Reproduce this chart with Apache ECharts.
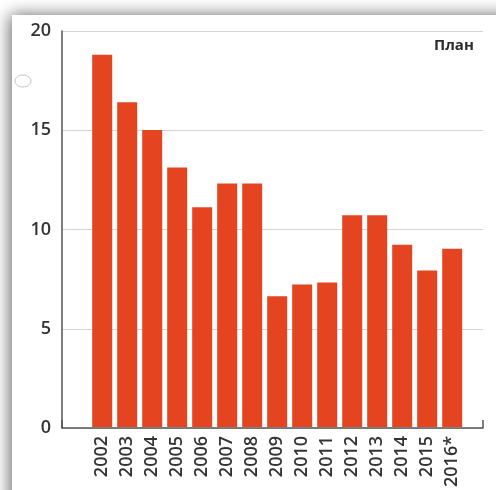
<!DOCTYPE html>
<html>
<head>
<meta charset="utf-8">
<style>
  html, body { margin: 0; padding: 0; background: #ffffff; }
  #chart { width: 496px; height: 490px; }
</style>
<script src="https://cdn.jsdelivr.net/npm/echarts@6/dist/echarts.min.js"></script>
</head>
<body>
<div id="chart"></div>
<script>
// Years shown along the bottom axis
const years = ['2002', '2003', '2004', '2005', '2006', '2007', '2008', '2009',
               '2010', '2011', '2012', '2013', '2014', '2015', '2016*'];
// Yearly values
const values = [18.8, 16.4, 15.0, 13.1, 11.1, 12.3, 12.3, 6.6,
                7.2, 7.3, 10.7, 10.7, 9.2, 7.9, 9.0];
// Value axis range and step
const yMin = 0;
const yMax = 20;
const yStep = 5;
const cornerNote = 'План';

const chart = echarts.init(document.getElementById('chart'));

const labelFont = '"Open Sans", "DejaVu Sans", sans-serif';

chart.setOption({
  animation: false,
  backgroundColor: 'transparent',
  graphic: [
    {
      // white card with a soft shadow on its left and top edges
      type: 'rect',
      z: -20,
      silent: true,
      shape: { x: 12, y: 15, width: 520, height: 520 },
      style: {
        fill: '#ffffff',
        shadowBlur: 16,
        shadowColor: 'rgba(0,0,0,0.6)',
        shadowOffsetX: -2,
        shadowOffsetY: 0
      }
    },
    {
      type: 'ellipse',
      silent: true,
      shape: { cx: 23, cy: 81, rx: 8, ry: 6 },
      style: { fill: 'none', stroke: '#c4c4c4', lineWidth: 1 }
    },
    {
      type: 'text',
      silent: true,
      left: 434,
      top: 38,
      style: {
        text: cornerNote,
        fill: '#2a2a2a',
        font: 'bold 15px ' + labelFont
      }
    }
  ],
  grid: [
    // frame: axes and gridlines
    { left: 62, right: 13, top: 31, bottom: 62 },
    // bars: one 25px band per year
    { left: 89.7, width: 375, top: 31, bottom: 62 }
  ],
  xAxis: [
    {
      gridIndex: 0,
      type: 'value',
      min: 0,
      max: 1,
      interval: 1,
      axisLine: { show: true, lineStyle: { color: '#555555', width: 1.5 } },
      axisTick: { show: true, inside: true, length: 8, lineStyle: { color: '#555555', width: 1.5 } },
      axisLabel: { show: false },
      splitLine: { show: false }
    },
    {
      gridIndex: 1,
      type: 'category',
      data: years,
      boundaryGap: true,
      axisLine: { show: false },
      axisTick: { show: false },
      axisLabel: {
        rotate: 90,
        margin: 9,
        interval: 0,
        color: '#333333',
        fontSize: 18,
        fontWeight: 600,
        fontFamily: labelFont
      }
    }
  ],
  yAxis: [
    {
      gridIndex: 0,
      type: 'value',
      min: yMin,
      max: yMax,
      interval: yStep,
      axisLine: { show: true, lineStyle: { color: '#555555', width: 1.5 } },
      axisTick: { show: false },
      axisLabel: {
        margin: 11,
        color: '#333333',
        fontSize: 18,
        fontWeight: 600,
        fontFamily: labelFont
      },
      splitLine: { show: true, lineStyle: { color: '#d4d4d4', width: 1 } }
    },
    {
      gridIndex: 1,
      type: 'value',
      min: yMin,
      max: yMax,
      interval: yStep,
      show: false
    }
  ],
  series: [
    {
      type: 'bar',
      xAxisIndex: 1,
      yAxisIndex: 1,
      data: values,
      barWidth: 20,
      itemStyle: { color: '#e4441f' },
      z: 3
    }
  ]
});
</script>
</body>
</html>
